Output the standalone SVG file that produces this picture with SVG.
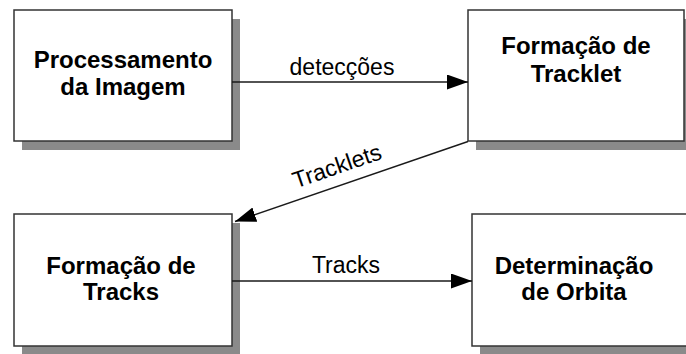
<svg xmlns="http://www.w3.org/2000/svg" width="686" height="354" viewBox="0 0 686 354">
  <style>
    .shadow { fill: #8a8a8a; }
    .box { fill: #ffffff; stroke: #333333; stroke-width: 1.5; }
    .title { font-family: "Liberation Sans", Arial, sans-serif; font-size: 24px; font-weight: bold; fill: #000000; text-anchor: middle; }
    .label { font-family: "Liberation Sans", Arial, sans-serif; font-size: 23px; fill: #000000; text-anchor: middle; }
    .edge { stroke: #1a1a1a; stroke-width: 1.4; fill: none; }
  </style>
  <defs>
    <marker id="arrow" markerUnits="userSpaceOnUse" markerWidth="22" markerHeight="16" refX="21" refY="7.5" orient="auto">
      <path d="M0,0 L21,7.5 L0,15 Z" fill="#000000"/>
    </marker>
  </defs>
  <rect width="686" height="354" fill="#ffffff"/>

  <g id="node-processamento">
    <rect class="shadow" x="22" y="19" width="218" height="131"/>
    <rect class="box" x="14" y="10" width="218" height="131"/>
    <text class="title" x="123" y="68">Processamento</text>
    <text class="title" x="123" y="95">da Imagem</text>
  </g>

  <g id="node-tracklet">
    <rect class="shadow" x="476" y="19" width="218" height="131"/>
    <rect class="box" x="468" y="10" width="216" height="131"/>
    <text class="title" x="576" y="54">Formação de</text>
    <text class="title" x="576" y="82">Tracklet</text>
  </g>

  <g id="node-tracks">
    <rect class="shadow" x="22" y="223" width="218" height="132"/>
    <rect class="box" x="14" y="214" width="218" height="132"/>
    <text class="title" x="121" y="274">Formação de</text>
    <text class="title" x="121" y="300">Tracks</text>
  </g>

  <g id="node-orbita">
    <rect class="shadow" x="480" y="223" width="218" height="132"/>
    <rect class="box" x="472" y="214" width="218" height="132"/>
    <text class="title" x="574" y="274">Determinação</text>
    <text class="title" x="574" y="300">de Orbita</text>
  </g>

  <g id="connectors">
    <line class="edge" x1="232" y1="82" x2="468" y2="82" marker-end="url(#arrow)"/>
    <text class="label" x="342" y="75">detecções</text>

    <line class="edge" x1="468" y1="141.5" x2="235" y2="221.5" marker-end="url(#arrow)"/>
    <text class="label" transform="translate(339.5,173.5) rotate(-18.9)" x="0" y="0">Tracklets</text>

    <line class="edge" x1="232" y1="281" x2="472" y2="281" marker-end="url(#arrow)"/>
    <text class="label" x="346" y="273">Tracks</text>
  </g>
</svg>
